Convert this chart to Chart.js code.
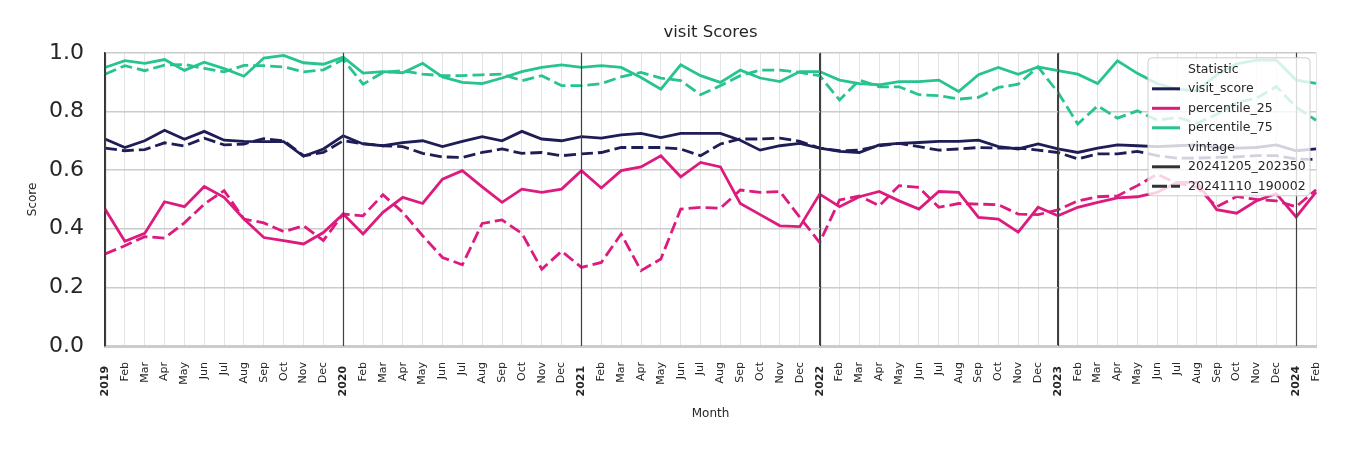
<!DOCTYPE html>
<html>
<head>
<meta charset="utf-8">
<title>visit Scores</title>
<script src="https://cdn.jsdelivr.net/npm/chart.js@4"></script>
<style>
  html, body { margin: 0; padding: 0; background: #fff; }
  #wrap { width: 1350px; height: 450px; position: relative; }
</style>
</head>
<body>
<div id="wrap"><canvas id="chart"></canvas></div>
<script>
// tick labels: a year label in January, month names otherwise (Jan 2019 .. Feb 2024)
const years = ['2019', '2020', '2021', '2022', '2023', '2024'];
const monthNames = ['Jan', 'Feb', 'Mar', 'Apr', 'May', 'Jun', 'Jul', 'Aug', 'Sep', 'Oct', 'Nov', 'Dec'];
const monthCount = 62;

const monthLabels = [];
for (let i = 0; i < monthCount; i++) {
  const m = i % 12;
  monthLabels.push(m === 0 ? years[Math.floor(i / 12)] : monthNames[m]);
}

// vintage 20241205_202350 (solid)
const visitScoreNew = [
  0.706, 0.677, 0.700, 0.736, 0.705, 0.732, 0.702, 0.698, 0.697, 0.697, 0.647, 0.672,
  0.717, 0.689, 0.683, 0.694, 0.700, 0.680, 0.698, 0.714, 0.700, 0.732, 0.706, 0.700,
  0.714, 0.709, 0.720, 0.725, 0.711, 0.725, 0.725, 0.725, 0.702, 0.668, 0.683, 0.691,
  0.675, 0.664, 0.660, 0.686, 0.691, 0.694, 0.698, 0.698, 0.702, 0.680, 0.672, 0.689,
  0.672, 0.660, 0.675, 0.686, 0.683, 0.680, 0.683, 0.686, 0.677, 0.675, 0.677, 0.686,
  0.666, 0.672
];
const p25New = [
  0.467, 0.357, 0.384, 0.492, 0.475, 0.544, 0.507, 0.433, 0.370, 0.359, 0.348, 0.387,
  0.450, 0.382, 0.456, 0.507, 0.486, 0.569, 0.598, 0.543, 0.490, 0.535, 0.524, 0.535,
  0.598, 0.539, 0.598, 0.611, 0.649, 0.577, 0.626, 0.611, 0.486, 0.448, 0.410, 0.407,
  0.518, 0.475, 0.509, 0.527, 0.495, 0.467, 0.527, 0.524, 0.439, 0.433, 0.388, 0.473,
  0.444, 0.473, 0.490, 0.505, 0.509, 0.524, 0.558, 0.558, 0.465, 0.453, 0.495, 0.520,
  0.440, 0.525
];
const p75New = [
  0.950, 0.973, 0.964, 0.977, 0.940, 0.968, 0.946, 0.920, 0.982, 0.991, 0.966, 0.961,
  0.985, 0.931, 0.936, 0.932, 0.964, 0.918, 0.899, 0.895, 0.914, 0.936, 0.950, 0.959,
  0.950, 0.956, 0.950, 0.916, 0.876, 0.959, 0.922, 0.899, 0.941, 0.914, 0.902, 0.936,
  0.936, 0.907, 0.895, 0.891, 0.902, 0.902, 0.907, 0.868, 0.925, 0.950, 0.927, 0.952,
  0.939, 0.927, 0.895, 0.973, 0.930, 0.895, 0.876, 0.870, 0.925, 0.962, 0.975, 0.975,
  0.907, 0.896
];

// vintage 20241110_190002 (dashed)
const visitScoreOld = [
  0.675, 0.666, 0.670, 0.693, 0.682, 0.709, 0.686, 0.689, 0.707, 0.700, 0.649, 0.660,
  0.700, 0.690, 0.683, 0.680, 0.657, 0.645, 0.643, 0.660, 0.672, 0.657, 0.660, 0.649,
  0.655, 0.660, 0.677, 0.677, 0.677, 0.672, 0.649, 0.689, 0.706, 0.706, 0.709, 0.698,
  0.675, 0.666, 0.668, 0.683, 0.691, 0.680, 0.668, 0.672, 0.677, 0.675, 0.675, 0.668,
  0.660, 0.638, 0.655, 0.655, 0.664, 0.649, 0.641, 0.641, 0.643, 0.645, 0.649, 0.649,
  0.638, 0.636
];
const p25Old = [
  0.314, 0.342, 0.373, 0.368, 0.420, 0.484, 0.530, 0.433, 0.420, 0.390, 0.410, 0.360,
  0.450, 0.444, 0.516, 0.456, 0.376, 0.302, 0.277, 0.418, 0.430, 0.384, 0.262, 0.323,
  0.268, 0.285, 0.382, 0.257, 0.297, 0.467, 0.473, 0.470, 0.532, 0.524, 0.527, 0.439,
  0.353, 0.498, 0.512, 0.478, 0.547, 0.541, 0.473, 0.486, 0.484, 0.482, 0.450, 0.448,
  0.464, 0.495, 0.509, 0.512, 0.547, 0.586, 0.555, 0.541, 0.475, 0.510, 0.500, 0.495,
  0.475, 0.533
];
const p75Old = [
  0.927, 0.956, 0.939, 0.958, 0.960, 0.947, 0.935, 0.957, 0.956, 0.952, 0.935, 0.942,
  0.977, 0.893, 0.933, 0.939, 0.927, 0.922, 0.922, 0.925, 0.927, 0.905, 0.922, 0.888,
  0.888, 0.895, 0.918, 0.933, 0.914, 0.905, 0.857, 0.888, 0.922, 0.941, 0.941, 0.933,
  0.922, 0.839, 0.907, 0.884, 0.884, 0.857, 0.854, 0.842, 0.848, 0.882, 0.893, 0.952,
  0.865, 0.757, 0.819, 0.777, 0.802, 0.770, 0.780, 0.760, 0.790, 0.830, 0.845, 0.885,
  0.815, 0.770
];

const NAVY = '#1f1d55';
const PINK = '#dd1a7e';
const GREEN = '#27c390';
const TEXT = '#262626';
const DASH = [12, 5];

Chart.defaults.font.family = "'DejaVu Sans', sans-serif";
Chart.defaults.color = TEXT;

function isYear(i) {
  return years.includes(monthLabels[i]);
}

function line(label, data, color, dashed) {
  return {
    label: label,
    data: data,
    borderColor: color,
    backgroundColor: color,
    borderWidth: 2.8,
    borderDash: dashed ? DASH : [],
    pointRadius: 0,
    tension: 0,
    fill: false
  };
}

const legendRows = [
  { text: 'Statistic' },
  { text: 'visit_score', color: NAVY, dash: [] },
  { text: 'percentile_25', color: PINK, dash: [] },
  { text: 'percentile_75', color: GREEN, dash: [] },
  { text: 'vintage' },
  { text: '20241205_202350', color: '#333333', dash: [] },
  { text: '20241110_190002', color: '#333333', dash: [15, 4] }
];

// year separators over the lines, then the legend box in the top right corner
const overlay = {
  id: 'overlay',
  afterDatasetsDraw(chart) {
    const { ctx, chartArea, scales } = chart;
    ctx.save();
    ctx.strokeStyle = '#404040';
    ctx.lineWidth = 1.2;
    monthLabels.forEach((lab, i) => {
      if (!isYear(i)) return;
      const x = Math.round(scales.x.getPixelForValue(i)) + 0.5;
      ctx.beginPath();
      ctx.moveTo(x, chartArea.top);
      ctx.lineTo(x, chartArea.bottom);
      ctx.stroke();
    });

    const w = 162, h = 138;
    const left = chartArea.right - 6 - w;
    const top = chartArea.top + 5;
    const r = 4;
    ctx.beginPath();
    ctx.moveTo(left + r, top);
    ctx.arcTo(left + w, top, left + w, top + h, r);
    ctx.arcTo(left + w, top + h, left, top + h, r);
    ctx.arcTo(left, top + h, left, top, r);
    ctx.arcTo(left, top, left + w, top, r);
    ctx.closePath();
    ctx.fillStyle = 'rgba(255,255,255,0.8)';
    ctx.fill();
    ctx.strokeStyle = '#cccccc';
    ctx.lineWidth = 1;
    ctx.stroke();

    ctx.font = "12.5px 'DejaVu Sans', sans-serif";
    ctx.textBaseline = 'middle';
    ctx.textAlign = 'left';
    legendRows.forEach((row, i) => {
      const y = top + 11.5 + i * 19.5;
      if (row.color) {
        ctx.strokeStyle = row.color;
        ctx.lineWidth = 3;
        ctx.setLineDash(row.dash);
        ctx.beginPath();
        ctx.moveTo(left + 4, y);
        ctx.lineTo(left + 32, y);
        ctx.stroke();
        ctx.setLineDash([]);
      }
      ctx.fillStyle = TEXT;
      ctx.fillText(row.text, left + 40, y);
    });
    ctx.restore();
  }
};

const ctx = document.getElementById('chart');

new Chart(ctx, {
  type: 'line',
  data: {
    labels: monthLabels,
    datasets: [
      line('visit_score 20241205_202350', visitScoreNew, NAVY, false),
      line('visit_score 20241110_190002', visitScoreOld, NAVY, true),
      line('percentile_25 20241205_202350', p25New, PINK, false),
      line('percentile_25 20241110_190002', p25Old, PINK, true),
      line('percentile_75 20241205_202350', p75New, GREEN, false),
      line('percentile_75 20241110_190002', p75Old, GREEN, true)
    ]
  },
  options: {
    responsive: true,
    maintainAspectRatio: false,
    animation: false,
    devicePixelRatio: 1,
    layout: { padding: { top: 0, right: 34, bottom: 0, left: 0 } },
    plugins: {
      legend: { display: false },
      tooltip: { enabled: false },
      title: {
        display: true,
        fullSize: false,
        text: 'visit Scores',
        color: TEXT,
        font: { size: 16.5, weight: 'normal' },
        padding: { top: 23, bottom: 10 }
      }
    },
    scales: {
      x: {
        type: 'category',
        offset: false,
        grid: {
          color: (c) => isYear(c.index) ? '#404040' : '#e3e3e3',
          lineWidth: 1,
          drawTicks: false
        },
        border: { color: '#cccccc', width: 3 },
        ticks: {
          autoSkip: false,
          minRotation: 90,
          maxRotation: 90,
          padding: 16,
          color: TEXT,
          callback: (v, i) => isYear(i) ? monthLabels[i] + ' ' : monthLabels[i],
          font: (c) => ({ size: 11, weight: isYear(c.index) ? 'bold' : 'normal' })
        },
        title: {
          display: true,
          text: 'Month',
          color: TEXT,
          font: { size: 12 },
          padding: { top: 0, bottom: 29 }
        },
        afterFit: (s) => { s.height = 104; }
      },
      y: {
        min: 0,
        max: 1,
        grid: { color: '#cccccc', lineWidth: 1.6, drawTicks: false },
        border: { color: '#333333', width: 1.2 },
        ticks: {
          stepSize: 0.2,
          padding: 21,
          color: TEXT,
          font: { size: 22 },
          callback: (v) => v.toFixed(1)
        },
        title: {
          display: true,
          text: 'Score',
          color: TEXT,
          font: { size: 12 },
          padding: { top: 26, bottom: 0 }
        },
        afterFit: (s) => { s.width = 105; }
      }
    }
  },
  plugins: [overlay]
});
</script>
</body>
</html>
